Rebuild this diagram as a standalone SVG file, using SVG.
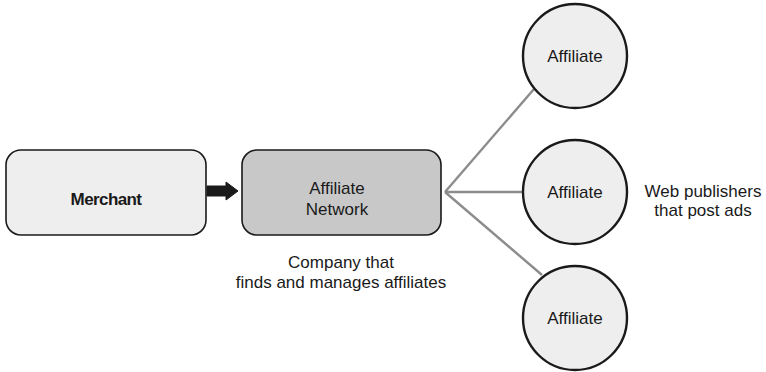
<svg xmlns="http://www.w3.org/2000/svg" width="766" height="372" viewBox="0 0 766 372">
<style>
text{font-family:"Liberation Sans",Arial,sans-serif;font-size:17px;fill:#1a1a1a;text-anchor:middle}
.box{stroke:#1a1a1a;stroke-width:1.6}
.circ{fill:#eeeeee;stroke:#1a1a1a;stroke-width:2.4}
.conn{stroke:#8c8c8c;stroke-width:2.4;fill:none}
</style>
<rect width="766" height="372" fill="#ffffff"/>
<g id="connectors">
<polygon points="207,186 226,186 226,182 238,191 226,200 226,196 207,196" fill="#1a1a1a" stroke="#1a1a1a" stroke-width="1" stroke-linejoin="round"/>
<line class="conn" x1="534" y1="89" x2="445" y2="192"/>
<line class="conn" x1="523" y1="192" x2="445" y2="192"/>
<line class="conn" x1="542" y1="275" x2="445" y2="192"/>
</g>
<g id="merchant">
<rect class="box" x="6" y="150" width="200" height="85" rx="15" fill="#eeeeee"/>
<text x="106" y="205" font-weight="bold" letter-spacing="-0.6">Merchant</text>
</g>
<g id="network">
<rect class="box" x="242" y="150" width="199" height="85" rx="15" fill="#c8c8c8"/>
<text x="337" y="194">Affiliate</text>
<text x="337" y="215">Network</text>
</g>
<g id="network-caption">
<text x="341" y="268">Company that</text>
<text x="341" y="288">finds and manages affiliates</text>
</g>
<g id="affiliate1">
<circle class="circ" cx="575" cy="56" r="52"/>
<text x="575" y="62">Affiliate</text>
</g>
<g id="affiliate2">
<circle class="circ" cx="575" cy="192" r="52"/>
<text x="575" y="198">Affiliate</text>
</g>
<g id="affiliate3">
<circle class="circ" cx="575" cy="318" r="52"/>
<text x="575" y="324">Affiliate</text>
</g>
<g id="affiliate-caption">
<text x="703" y="197">Web publishers</text>
<text x="703" y="216">that post ads</text>
</g>
</svg>
